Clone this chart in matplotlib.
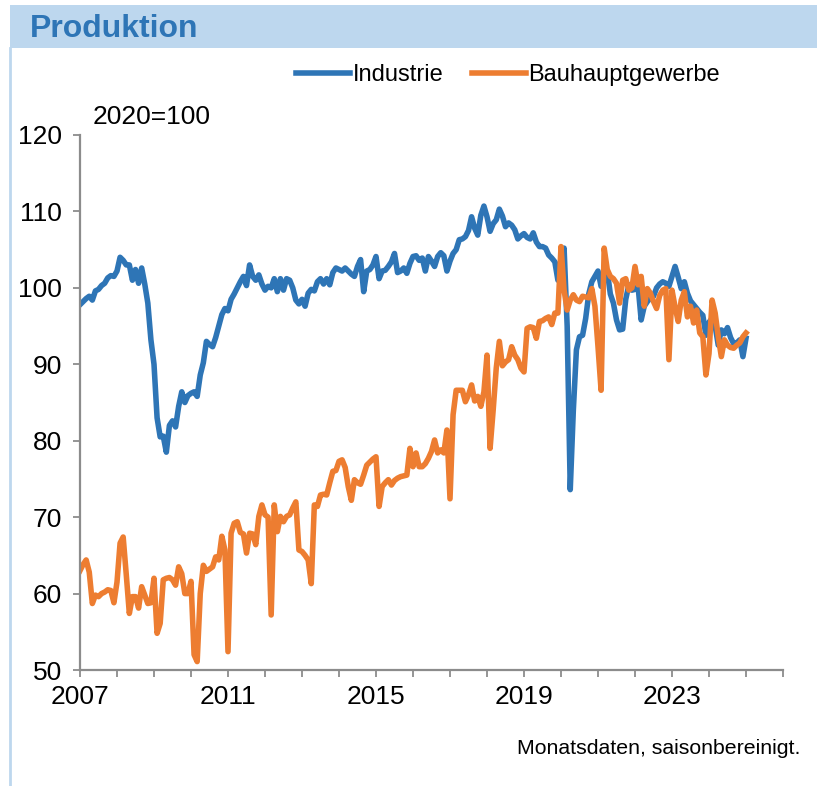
import numpy as np
import matplotlib.pyplot as plt
from matplotlib.patches import Rectangle
from matplotlib.lines import Line2D

plt.rcParams['font.family'] = ['Liberation Sans', 'DejaVu Sans']

# monthly index values, 2020=100, starting Jan 2007
start_year = 2007
industrie = [
    97.8, 98.2, 98.6, 98.9, 98.4, 99.6, 99.8, 100.3, 100.6, 101.3, 101.6, 101.5,
    102.2, 104.0, 103.6, 103.0, 103.0, 101.0, 102.4, 100.6, 102.6, 100.5, 98.0, 93.2,
    90.0, 83.0, 80.5, 80.6, 78.5, 82.0, 82.6, 81.8, 84.5, 86.4, 85.0, 85.9,
    86.2, 86.4, 85.8, 88.6, 90.2, 93.0, 92.6, 92.3, 93.5, 95.0, 96.5, 97.3,
    97.0, 98.5, 99.2, 100.0, 100.8, 101.5, 100.3, 103.0, 101.5, 101.0, 101.7, 100.5,
    99.7, 100.2, 100.0, 101.2, 99.5, 101.2, 99.7, 101.2, 101.0, 100.0, 98.4, 97.9,
    98.5, 97.6, 99.3, 99.8, 99.6, 100.8, 101.2, 100.5, 101.2, 100.4, 102.0, 102.6,
    102.4, 102.2, 102.6, 102.2, 101.8, 101.5, 102.8, 103.7, 99.5, 102.2, 102.4, 103.0,
    104.1, 101.2, 102.2, 102.3, 102.8, 103.4, 104.5, 102.0, 102.2, 102.6, 101.9, 103.2,
    104.1, 104.2, 103.6, 103.9, 102.2, 104.1, 103.5, 102.8, 104.1, 104.6, 104.2, 102.2,
    103.5, 104.5, 105.0, 106.3, 106.4, 106.7, 107.5, 109.3, 107.8, 106.9, 109.5, 110.7,
    109.3, 107.4, 108.4, 108.9, 110.3, 109.4, 108.0, 108.5, 108.2, 107.6, 106.4, 106.8,
    107.1, 106.6, 106.4, 107.2, 106.0, 105.4, 105.4, 105.2, 104.3, 103.9, 103.4, 101.0,
    103.8, 105.2, 95.0, 73.6, 84.0, 91.9, 93.6, 93.8, 96.0, 99.2, 100.8, 101.5,
    102.2, 100.2, 101.8, 102.2, 99.2, 98.0, 95.8, 94.5, 94.6, 98.5, 100.4, 99.7,
    99.8, 100.2, 95.8, 97.6, 98.2, 98.7, 98.9, 100.0, 100.5, 100.8, 100.6, 100.2,
    101.5, 102.8, 101.4, 99.9, 100.8, 99.3, 98.3, 97.8, 97.3, 96.8, 96.4, 93.8,
    95.5, 96.0, 95.0, 92.5, 94.5, 94.0, 94.8, 93.5, 92.7, 92.8, 93.2, 91.0,
    93.4,
]
bau = [
    63.0, 63.8, 64.4, 62.8, 58.7, 59.8, 59.6, 60.0, 60.2, 60.5, 60.4, 58.8,
    61.5, 66.6, 67.4, 62.5, 57.4, 59.6, 59.6, 58.1, 60.9, 59.8, 58.7, 58.8,
    62.0, 54.8, 56.1, 61.8, 62.0, 62.1, 61.8, 61.1, 63.5, 62.6, 60.0, 60.0,
    61.6, 52.0, 51.1, 60.0, 63.7, 62.9, 63.2, 63.5, 64.8, 64.4, 67.5, 65.7,
    52.4, 67.9, 69.2, 69.4, 68.0, 67.8, 65.3, 67.9, 67.8, 66.4, 70.1, 71.6,
    70.3, 70.0, 57.2, 71.6, 68.1, 70.1, 69.4, 70.1, 70.3, 71.2, 72.0, 65.7,
    65.5, 65.0, 64.4, 61.3, 71.6, 71.4, 72.9, 73.0, 72.9, 74.5, 76.0, 76.1,
    77.3, 77.5, 76.5, 74.0, 72.2, 74.9, 74.5, 74.3, 75.5, 76.8, 77.2, 77.6,
    77.9, 71.4, 74.0, 74.5, 74.9, 74.2, 74.8, 75.1, 75.3, 75.4, 75.5, 79.0,
    76.6, 78.4, 76.6, 76.6, 77.0, 77.7, 78.6, 80.1, 78.4, 78.8, 78.4, 81.4,
    72.4, 83.4, 86.6, 86.6, 86.6, 85.1, 86.0, 87.3, 85.2, 85.8, 84.5, 86.4,
    91.2, 79.0, 84.0, 89.5, 93.0, 89.8, 90.3, 90.6, 92.3, 91.2, 90.6, 89.5,
    89.0, 94.7, 94.9, 94.8, 93.4, 95.6, 95.7, 96.0, 96.2, 95.2, 96.7, 96.7,
    105.4, 99.7, 97.1, 98.4, 99.1, 98.4, 98.2, 98.9, 98.8, 98.7, 99.9, 97.6,
    92.3, 86.6, 105.2, 102.4, 101.5, 101.2, 100.6, 98.0, 101.0, 101.2, 99.7, 100.0,
    102.8, 100.4, 101.5, 97.6, 99.9, 99.3, 98.2, 97.3, 99.0, 99.7, 99.9, 90.6,
    99.7, 97.5, 95.6, 98.4, 99.5, 96.2, 97.6, 95.4, 97.1, 94.1, 93.6, 88.6,
    91.4, 98.4, 96.7, 93.6, 91.0, 93.2, 92.5, 92.2, 92.1, 92.5, 92.8, 93.6,
    94.1,
]
series_names = ['Industrie', 'Bauhauptgewerbe']
year_labels = [2007, 2011, 2015, 2019, 2023]
y_ticks = [50, 60, 70, 80, 90, 100, 110, 120]

blue = '#2E75B6'
orange = '#ED7D31'
grey = '#8C8C8C'
band = '#BDD7EE'

W, H = 817, 786
fig = plt.figure(figsize=(W / 100, H / 100), dpi=100)

# header band + left border
fig.patches.append(Rectangle((10 / W, 1 - 48 / H), 1, 43 / H, transform=fig.transFigure,
                             facecolor=band, edgecolor='none', zorder=0))
fig.add_artist(Line2D([10 / W, 10 / W], [0, 1 - 48 / H], color=band, lw=2))
fig.text(30 / W, 1 - 29 / H, 'Produktion', fontsize=23, fontweight='bold',
         color=blue, va='center')

ax = fig.add_axes([80 / W, 116 / H, 703 / W, 535 / H])
x = start_year + np.arange(len(industrie)) / 12
ax.plot(x, industrie, color=blue, lw=4.0, label=series_names[0], solid_joinstyle='round')
ax.plot(x, bau, color=orange, lw=4.0, label=series_names[1], solid_joinstyle='round')

ax.set_xlim(2007, 2026)
ax.set_ylim(50, 120)
ax.set_xticks(year_labels)
ax.set_xticks(np.arange(2007, 2027), minor=True)
ax.set_yticks(y_ticks)

for s in ['top', 'right']:
    ax.spines[s].set_visible(False)
for s in ['left', 'bottom']:
    ax.spines[s].set_color(grey)
    ax.spines[s].set_linewidth(1.6)
ax.tick_params(which='both', direction='out', length=5, width=1.3, color=grey,
               labelsize=19, labelcolor='black')
ax.tick_params(axis='y', pad=8)
ax.tick_params(axis='x', pad=6)

fig.legend(loc='center', bbox_to_anchor=(508 / W, 1 - 75 / H), ncol=2, frameon=False,
           fontsize=17, handlelength=2.3, handletextpad=0.1, columnspacing=1.2)

fig.text(93 / W, 1 - 117 / H, '2020=100', fontsize=19, va='center')
fig.text(800 / W, 1 - 748 / H, 'Monatsdaten, saisonbereinigt.', fontsize=15.3,
         ha='right', va='center')

fig.savefig('out.png', dpi=100)
